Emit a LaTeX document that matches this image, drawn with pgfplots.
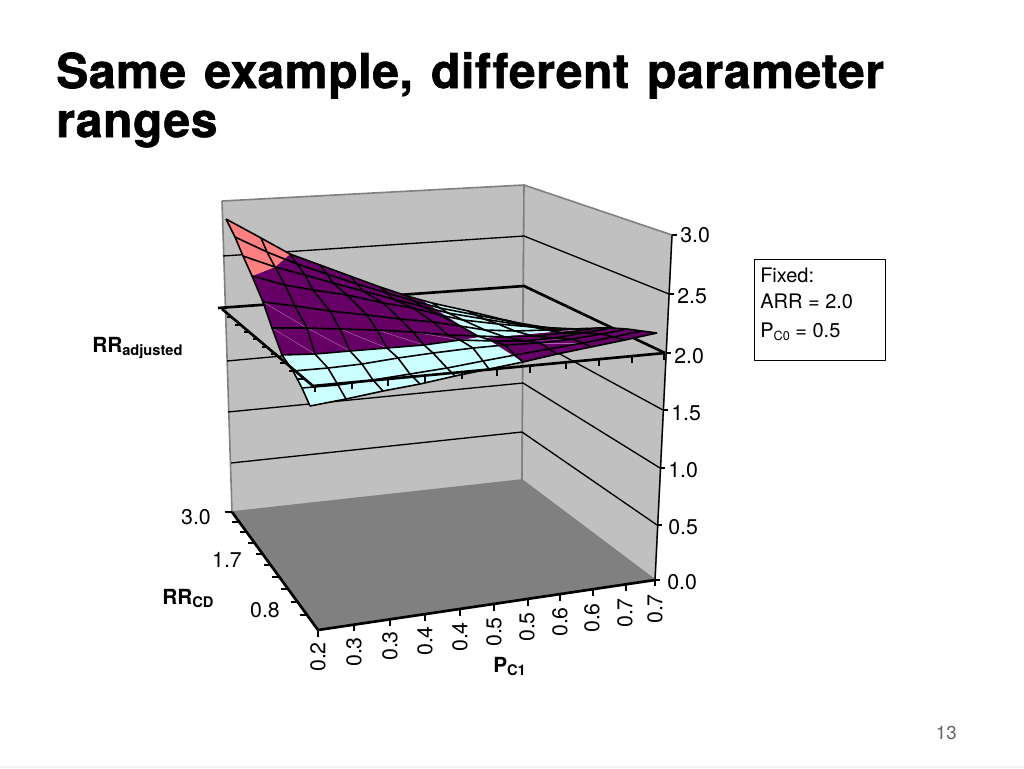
\documentclass[border=0pt]{standalone}
\usepackage{pgfplots}
\usepackage{pgfplotstable}
\usepackage{fontspec}
\pgfplotsset{compat=1.18}
\setmainfont{TeX Gyre Heros}
\newfontfamily\titlefont[LetterSpace=1.3, WordSpace=1.3, Ligatures=NoCommon, BoldFeatures={FakeBold=1.3}]{TeX Gyre Heros}

\definecolor{wall}{HTML}{C0C0C0}
\definecolor{floorgray}{HTML}{808080}
\definecolor{band1}{HTML}{CCFFFF}
\definecolor{band2}{HTML}{660066}
\definecolor{band3}{HTML}{FF8080}
\definecolor{seam}{HTML}{A860A8}

% surface mesh: column i (P_C1), row j (RR_CD), x y in pixels
\pgfplotstableread{
i j x y
0 0 226 219
1 0 261 238
2 0 290 254
3 0 320 265
4 0 350 276
5 0 380 287
6 0 407 296
7 0 432 303
8 0 468 311
9 0 505 320
10 0 552 331
0 1 235 237
1 1 267 252
2 1 297 264
3 1 327 274
4 1 357 284
5 1 387 293
6 1 414 301
7 1 440 308
8 1 476 315
9 1 513 322
10 1 560 330
0 2 243 256
1 2 275 267
2 2 305 275
3 2 333 283
4 2 363 291
5 2 393 299
6 2 421 306
7 2 448 313
8 2 484 319
9 2 521 325
10 2 568 329.5
0 3 252 276
1 3 285 285
2 3 313 290
3 3 347 295
4 3 383 303
5 3 413 308
6 3 440 315
7 3 463 320
8 3 498 324
9 3 532 327
10 3 577 329
0 4 263 302
1 4 295 306
2 4 330 311
3 4 367 315
4 4 400 319
5 4 433 322
6 4 460 326
7 4 485 330
8 4 515 331
9 4 548 330
10 4 587 328.5
0 5 272 328
1 5 307 328
2 5 340 329
3 5 377 330
4 5 413 332
5 5 448 335
6 5 478 336
7 5 505 337
8 5 533 336
9 5 563 333
10 5 598 328
0 6 282 355
1 6 315 354
2 6 350 351
3 6 387 348
4 6 424 345
5 6 460 340
6 6 493 341
7 6 525 341
8 6 554 338
9 6 583 333
10 6 612 328
0 7 293 371
1 7 328 368
2 7 362 364
3 7 398 358
4 7 433 353
5 7 473 348
6 7 505 345
7 7 540 343
8 7 572 339
9 7 602 334
10 7 627 329
0 8 302 388
1 8 338 385
2 8 373 380
3 8 410 374
4 8 447 368
5 8 483 361
6 8 515 355
7 8 549 349
8 8 583 343
9 8 613 337
10 8 642 331
0 9 310 406
1 9 346 399
2 9 383 391
3 9 420 384
4 9 455 376
5 9 489 369
6 9 523 362
7 9 557 354
8 9 591 347
9 9 625 340
10 9 657 333
}\meshdata

\newcommand{\tl}{\fontsize{16pt}{18pt}\selectfont}
\newcommand{\lb}{\fontsize{15.6pt}{18pt}\selectfont}
\newcommand{\bx}{\fontsize{15pt}{18pt}\selectfont}
\newcommand{\sub}[1]{\raisebox{-2.5pt}{\fontsize{9.5pt}{10pt}\selectfont #1}}
\newcommand{\bsub}[1]{\raisebox{-2.5pt}{\fontsize{11pt}{12pt}\selectfont #1}}
\newcommand{\ticktext}[3]{\node[anchor=west, inner sep=0pt] at (axis cs:#2,#3) {\tl #1};}
\newcommand{\midtext}[3]{\node[inner sep=0pt] at (axis cs:#2,#3) {\tl #1};}
\newcommand{\rottext}[3]{\node[rotate=90, inner sep=0pt] at (axis cs:#2,#3) {\tl #1};}

\begin{document}
\begin{tikzpicture}
\begin{axis}[
  scale only axis, width=768pt, height=576pt,
  xmin=0, xmax=1024, ymin=0, ymax=768, y dir=reverse,
  axis lines=none, clip=false,
  unbounded coords=discard,
  every axis plot/.append style={mark=none, line join=round},
]
% page
\addplot[draw=none, fill=white] coordinates {(0,0) (1024,0) (1024,768) (0,768) (0,0)};
\addplot[draw=none, fill=black!5] coordinates {(0,766) (1024,766) (1024,768) (0,768) (0,766)};

% walls and floor
\addplot[draw=floorgray, fill=wall, line width=1.2pt] coordinates {(222,201) (524,185) (522,480) (232,512) (222,201)};
\addplot[draw=floorgray, fill=wall, line width=1.2pt] coordinates {(524,185) (672,235) (655,580) (522,480) (524,185)};
\addplot[draw=floorgray, fill=floorgray, line width=0.5pt] coordinates {(232,512) (522,480) (655,580) (318,630) (232,512)};

% grid lines on the walls
\addplot[black, line width=1pt] coordinates {(223,256) (524,236) (669,294)};
\addplot[black, line width=1pt] coordinates {(227,361) (523,334) (663,410)};
\addplot[black, line width=1pt] coordinates {(228,412) (523,383) (660,468)};
\addplot[black, line width=1pt] coordinates {(231,463) (522,432) (657,525)};

% the plane at 2.0, back and right edges
\addplot[black, line width=2pt] coordinates {(218,308) (524,286) (665,353)};

% cyan band of the surface
\addplot[draw=none, fill=band1] coordinates {(282,355) (293,371) (302,388) (310,406) (383,391) (455,376) (523,362) (486,338) (520,335) (553,332) (505,320) (468,311) (423,301) (282,355)};

% the plane at 2.0, left and front edges with ticks
\addplot[black, line width=2pt] coordinates {(222,309) (313,386) (665,353)};
\addplot[black, line width=1.5pt] coordinates {(232,317) (227,317)};
\addplot[black, line width=1.5pt] coordinates {(241,325) (235,325)};
\addplot[black, line width=1.5pt] coordinates {(250,332) (244,332)};
\addplot[black, line width=1.5pt] coordinates {(259,339) (253,339)};
\addplot[black, line width=1.5pt] coordinates {(268,347) (262,347)};
\addplot[black, line width=1.5pt] coordinates {(277,354) (271,354)};
\addplot[black, line width=1.5pt] coordinates {(286,363) (280,363)};
\addplot[black, line width=1.5pt] coordinates {(295,371) (289,371)};
\addplot[black, line width=1.5pt] coordinates {(304,379) (298,379)};
\addplot[black, line width=1.5pt] coordinates {(315,386) (315,392)};
\addplot[black, line width=1.5pt] coordinates {(352,382) (352,389)};
\addplot[black, line width=1.5pt] coordinates {(388,379) (388,386)};
\addplot[black, line width=1.5pt] coordinates {(425,375) (425,382)};
\addplot[black, line width=1.5pt] coordinates {(462,372) (462,379)};
\addplot[black, line width=1.5pt] coordinates {(497,369) (497,376)};
\addplot[black, line width=1.5pt] coordinates {(530,366) (530,373)};
\addplot[black, line width=1.5pt] coordinates {(566,362) (566,369)};
\addplot[black, line width=1.5pt] coordinates {(599,359) (599,366)};
\addplot[black, line width=1.5pt] coordinates {(632,356) (632,363)};
\addplot[black, line width=1.5pt] coordinates {(664,353) (664,360)};

% purple and salmon bands
\addplot[draw=none, fill=band2] coordinates {(252,276) (263,302) (272,328) (282,355) (315,354) (360,350) (385,348) (423,345) (460,340) (480,337) (460,325) (423,301) (402,295) (290,254) (275,267) (252,276)};
\addplot[draw=none, fill=band2] coordinates {(486,338) (520,335) (553,332) (612,328) (657,333) (523,362) (486,338)};
\addplot[draw=none, fill=band3] coordinates {(226,219) (261,238) (290,254) (275,267) (252,276) (243,256) (235,237) (226,219)};

% light seams across the purple cells
\addplot[seam, line width=0.4pt] coordinates {(272,328) (315,354)};
\addplot[seam, line width=0.4pt] coordinates {(307,328) (350,351)};
\addplot[seam, line width=0.4pt] coordinates {(340,329) (387,348)};
\addplot[seam, line width=0.4pt] coordinates {(377,330) (424,345)};
\addplot[seam, line width=0.4pt] coordinates {(413,332) (460,340)};
\addplot[seam, line width=0.4pt] coordinates {(263,302) (307,328)};
\addplot[seam, line width=0.4pt] coordinates {(525,341) (572,339)};
\addplot[seam, line width=0.4pt] coordinates {(540,343) (583,343)};

% mesh lines
\pgfplotsinvokeforeach{0,...,9}{
  \addplot[black, line width=1.2pt] table[x=x, y expr={\thisrow{j}==#1 ? \thisrow{y} : nan}] {\meshdata};
}
\pgfplotsinvokeforeach{0,...,10}{
  \addplot[black, line width=1.2pt] table[x=x, y expr={\thisrow{i}==#1 ? \thisrow{y} : nan}] {\meshdata};
}

% axes
\addplot[black, line width=1pt] coordinates {(655,580) (672,235)};
\addplot[black, line width=1pt] coordinates {(672,235) (677,235)};
\addplot[black, line width=1pt] coordinates {(669,294) (674,294)};
\addplot[black, line width=1pt] coordinates {(666,353) (671,353)};
\addplot[black, line width=1pt] coordinates {(663,410) (668,410)};
\addplot[black, line width=1pt] coordinates {(660,468) (665,468)};
\addplot[black, line width=1pt] coordinates {(657,525) (662,525)};
\addplot[black, line width=1pt] coordinates {(655,580) (660,580)};

\addplot[black, line width=2pt] coordinates {(232,512) (318,630) (655,580)};
\addplot[black, line width=1.5pt] coordinates {(232,512) (225,512)};
\addplot[black, line width=1.5pt] coordinates {(239,522) (232,522)};
\addplot[black, line width=1.5pt] coordinates {(247,532) (240,532)};
\addplot[black, line width=1.5pt] coordinates {(255,543) (248,543)};
\addplot[black, line width=1.5pt] coordinates {(263,554) (256,554)};
\addplot[black, line width=1.5pt] coordinates {(271,565) (264,565)};
\addplot[black, line width=1.5pt] coordinates {(279,577) (272,577)};
\addplot[black, line width=1.5pt] coordinates {(288,589) (281,589)};
\addplot[black, line width=1.5pt] coordinates {(298,602) (291,602)};
\addplot[black, line width=1.5pt] coordinates {(307,615) (300,615)};
\addplot[black, line width=1.5pt] coordinates {(318,630) (318,637)};
\addplot[black, line width=1.5pt] coordinates {(354,625) (354,631)};
\addplot[black, line width=1.5pt] coordinates {(390,619) (390,626)};
\addplot[black, line width=1.5pt] coordinates {(425,614) (425,621)};
\addplot[black, line width=1.5pt] coordinates {(460,609) (460,616)};
\addplot[black, line width=1.5pt] coordinates {(494,604) (494,611)};
\addplot[black, line width=1.5pt] coordinates {(528,599) (528,606)};
\addplot[black, line width=1.5pt] coordinates {(560,594) (560,601)};
\addplot[black, line width=1.5pt] coordinates {(593,589) (593,596)};
\addplot[black, line width=1.5pt] coordinates {(626,584) (626,591)};
\addplot[black, line width=1.5pt] coordinates {(655,580) (655,586)};

% fixed parameters box
\addplot[black, line width=0.7pt] coordinates {(754,259) (885,259) (885,360) (754,360) (754,259)};

% text
\node[anchor=base west, inner sep=0pt] at (axis cs:56,88) {\titlefont\fontsize{36pt}{40pt}\selectfont\bfseries Same example, different parameter};
\node[anchor=base west, inner sep=0pt] at (axis cs:56,137) {\titlefont\fontsize{36pt}{40pt}\selectfont\bfseries ranges};

\ticktext{3.0}{680}{235}
\ticktext{2.5}{677}{296}
\ticktext{2.0}{674}{356}
\ticktext{1.5}{671}{413}
\ticktext{1.0}{668}{470}
\ticktext{0.5}{668}{527}
\ticktext{0.0}{667}{582}
\midtext{3.0}{196}{517}
\midtext{1.7}{227}{560}
\midtext{0.8}{265}{610}
\rottext{0.2}{318}{657}
\rottext{0.3}{354}{652}
\rottext{0.3}{390}{646}
\rottext{0.4}{425}{641}
\rottext{0.4}{460}{637}
\rottext{0.5}{494}{632}
\rottext{0.5}{527}{627}
\rottext{0.6}{560}{622}
\rottext{0.6}{592}{618}
\rottext{0.7}{625}{613}
\rottext{0.7}{655}{609}

\node[anchor=base west, inner sep=0pt] at (axis cs:92,352) {\lb\bfseries RR\bsub{adjusted}};
\node[anchor=base west, inner sep=0pt] at (axis cs:162,604) {\lb\bfseries RR\bsub{CD}};
\node[anchor=base west, inner sep=0pt] at (axis cs:493,672) {\lb\bfseries P\bsub{C1}};

\node[anchor=base west, inner sep=0pt] at (axis cs:760,282) {\bx Fixed:};
\node[anchor=base west, inner sep=0pt] at (axis cs:760,308) {\bx ARR = 2.0};
\node[anchor=base west, inner sep=0pt] at (axis cs:760,337) {\bx P\sub{C0} = 0.5};

\node[anchor=base east, inner sep=0pt, text=black!60] at (axis cs:957,739) {\fontsize{14pt}{16pt}\selectfont 13};
\end{axis}
\end{tikzpicture}
\end{document}
